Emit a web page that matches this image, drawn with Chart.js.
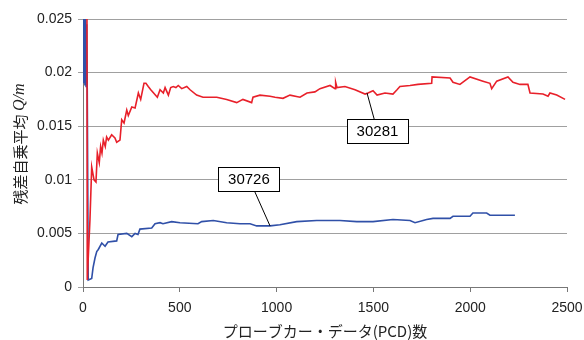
<!DOCTYPE html>
<html>
<head>
<meta charset="utf-8">
<script src="https://cdn.jsdelivr.net/npm/chart.js@4/dist/chart.umd.min.js"></script>
<style>
html,body{margin:0;padding:0;background:#fff;}
#wrap{width:584px;height:340px;position:relative;}
</style>
</head>
<body>
<div id="wrap"><canvas id="c" width="584" height="340"></canvas></div>
<script>
// ---- data ----
const redX = [20, 22, 36, 45, 57, 67, 74, 84, 91, 98, 105, 115, 122, 131, 148, 165, 174, 191, 200, 212, 226, 234, 252, 269, 286, 298, 315, 325, 337, 350, 384, 398, 415, 424, 441, 453, 466, 480, 492, 510, 536, 553, 587, 620, 691, 742, 794, 826, 871, 878, 914, 966, 992, 1033, 1069, 1121, 1157, 1198, 1224, 1276, 1302, 1305, 1312, 1353, 1405, 1457, 1472, 1498, 1519, 1560, 1601, 1622, 1637, 1689, 1730, 1801, 1803, 1896, 1911, 1947, 1999, 2066, 2102, 2111, 2137, 2195, 2221, 2257, 2298, 2309, 2376, 2402, 2412, 2447, 2490];
const redY = [0.032, 0.00065, 0.0063, 0.0112, 0.0100, 0.0098, 0.0125, 0.0116, 0.0131, 0.0125, 0.0137, 0.0131, 0.0140, 0.0137, 0.0142, 0.0139, 0.0135, 0.0137, 0.0156, 0.0153, 0.0165, 0.0160, 0.0168, 0.0167, 0.0181, 0.0175, 0.0190, 0.0190, 0.0187, 0.0184, 0.0177, 0.0184, 0.0181, 0.0186, 0.0179, 0.0186, 0.0187, 0.0186, 0.0188, 0.0185, 0.0187, 0.0184, 0.0179, 0.0177, 0.0177, 0.0175, 0.0172, 0.0175, 0.0172, 0.0177, 0.0179, 0.0178, 0.0177, 0.0176, 0.0179, 0.0177, 0.0181, 0.0182, 0.0185, 0.0188, 0.0185, 0.0191, 0.0186, 0.0187, 0.0184, 0.0180, 0.0181, 0.0183, 0.0179, 0.0181, 0.0180, 0.0184, 0.0187, 0.0188, 0.0189, 0.0190, 0.0196, 0.0195, 0.0191, 0.0189, 0.0196, 0.0192, 0.0190, 0.0185, 0.0192, 0.0196, 0.0191, 0.0189, 0.0189, 0.0181, 0.0180, 0.0178, 0.0181, 0.0179, 0.0175];
const blueX = [1, 4, 7, 10, 13, 16, 19, 22, 27, 45, 52, 62, 71, 79, 97, 114, 129, 174, 181, 226, 252, 269, 284, 294, 355, 372, 398, 413, 458, 501, 594, 613, 673, 742, 811, 863, 897, 966, 1017, 1104, 1207, 1327, 1414, 1498, 1601, 1689, 1715, 1775, 1808, 1896, 1911, 1999, 2014, 2085, 2102, 2163, 2231];
const blueY = [0.030, 0.019, 0.027, 0.0188, 0.026, 0.0187, 0.0245, 0.0184, 0.00065, 0.0008, 0.0018, 0.0027, 0.0033, 0.0035, 0.0041, 0.0038, 0.0042, 0.0043, 0.0049, 0.0050, 0.0047, 0.0050, 0.0049, 0.0054, 0.0055, 0.0059, 0.0060, 0.0059, 0.0061, 0.0060, 0.0059, 0.0061, 0.0062, 0.0060, 0.0059, 0.0059, 0.0057, 0.0057, 0.0058, 0.0061, 0.0062, 0.0062, 0.0061, 0.0061, 0.0063, 0.0062, 0.0060, 0.0063, 0.0064, 0.0064, 0.0066, 0.0066, 0.0069, 0.0069, 0.0067, 0.0067, 0.0067];
const seriesNames = ['30281', '30726'];
const xTicks = [0, 500, 1000, 1500, 2000, 2500];
const yTicks = [0, 0.005, 0.01, 0.015, 0.02, 0.025];
const xTitle = 'プローブカー・データ(PCD)数';
const yTitleMain = '残差自乗平均 ';
const yTitleItalic = 'Q/m';

// callouts: point referenced, box center (data units)
const calloutPointX = [1467, 966];
const calloutPointY = [0.0181, 0.0057];
const calloutBoxX = [1521, 857];
const calloutBoxY = [0.01455, 0.01012];

const toPts = (xs, ys) => xs.map((x, i) => ({x: x, y: ys[i]}));

const calloutPlugin = {
  id: 'callouts',
  afterDatasetsDraw(chart) {
    const ctx = chart.ctx, xs = chart.scales.x, ys = chart.scales.y;
    ctx.save();
    ctx.font = '15px "Liberation Sans", Arial, sans-serif';
    for (let i = 0; i < seriesNames.length; i++) {
      const px = xs.getPixelForValue(calloutPointX[i]);
      const py = ys.getPixelForValue(calloutPointY[i]);
      const bx = xs.getPixelForValue(calloutBoxX[i]);
      const by = ys.getPixelForValue(calloutBoxY[i]);
      const w = 61, h = 24;
      ctx.strokeStyle = '#000';
      ctx.lineWidth = 1;
      ctx.beginPath();
      ctx.moveTo(bx, by);
      ctx.lineTo(px, py);
      ctx.stroke();
      ctx.fillStyle = '#fff';
      ctx.fillRect(Math.round(bx - w / 2) + 0.5, Math.round(by - h / 2) + 0.5, w, h);
      ctx.strokeRect(Math.round(bx - w / 2) + 0.5, Math.round(by - h / 2) + 0.5, w, h);
      ctx.fillStyle = '#000';
      ctx.textAlign = 'center';
      ctx.textBaseline = 'middle';
      ctx.fillText(seriesNames[i], bx, by + 1);
    }
    ctx.restore();
  }
};

const titlePlugin = {
  id: 'titles',
  afterDraw(chart) {
    const ctx = chart.ctx, ca = chart.chartArea;
    ctx.save();
    ctx.fillStyle = '#222';
    // x title
    ctx.font = '15px "Noto Sans CJK JP", "Liberation Sans", sans-serif';
    ctx.textAlign = 'center';
    ctx.textBaseline = 'middle';
    ctx.fillText(xTitle, (ca.left + ca.right) / 2, 331);
    // y title (rotated, mixed fonts)
    const f1 = '15px "Noto Sans CJK JP", "Liberation Sans", sans-serif';
    const f2 = 'italic 16px "Liberation Serif", "Times New Roman", serif';
    ctx.font = f1; const w1 = ctx.measureText(yTitleMain).width;
    ctx.font = f2; const w2 = ctx.measureText(yTitleItalic).width;
    const total = w1 + w2;
    ctx.translate(20, 144);
    ctx.rotate(-Math.PI / 2);
    ctx.textAlign = 'left';
    ctx.textBaseline = 'middle';
    ctx.font = f1;
    ctx.fillText(yTitleMain, -total / 2, 0);
    ctx.font = f2;
    ctx.fillText(yTitleItalic, -total / 2 + w1, 0);
    ctx.restore();
  }
};

new Chart(document.getElementById('c'), {
  type: 'line',
  data: {
    datasets: [
      {label: seriesNames[0], data: toPts(redX, redY), borderColor: '#e8202a', borderWidth: 1.6, pointRadius: 0, tension: 0, fill: false},
      {label: seriesNames[1], data: toPts(blueX, blueY), borderColor: '#3050a8', borderWidth: 1.6, pointRadius: 0, tension: 0, fill: false}
    ]
  },
  options: {
    responsive: false,
    animation: false,
    layout: {padding: {top: 19, right: 17, left: 0, bottom: 0}},
    plugins: {legend: {display: false}, tooltip: {enabled: false}},
    scales: {
      x: {
        type: 'linear', min: 0, max: 2500,
        afterBuildTicks: s => { s.ticks = xTicks.map(v => ({value: v})); },
        afterFit: s => { s.height = 53; s.paddingLeft = 0; s.paddingRight = 0; },
        grid: {drawOnChartArea: false, drawTicks: true, tickLength: 5, color: '#777'},
        border: {color: '#777', width: 1},
        ticks: {color: '#222', padding: 8, maxRotation: 0, font: {family: '"Liberation Sans", Arial, sans-serif', size: 14}, callback: v => String(v)}
      },
      y: {
        type: 'linear', min: 0, max: 0.025,
        afterBuildTicks: s => { s.ticks = yTicks.map(v => ({value: v})); },
        afterFit: s => { s.width = 83; s.paddingTop = 0; s.paddingBottom = 0; },
        grid: {color: '#a0a0a0', drawTicks: true, tickLength: 5},
        border: {color: '#777', width: 1},
        ticks: {color: '#222', padding: 6, font: {family: '"Liberation Sans", Arial, sans-serif', size: 14}, callback: v => String(v)}
      }
    }
  },
  plugins: [calloutPlugin, titlePlugin]
});
</script>
</body>
</html>
